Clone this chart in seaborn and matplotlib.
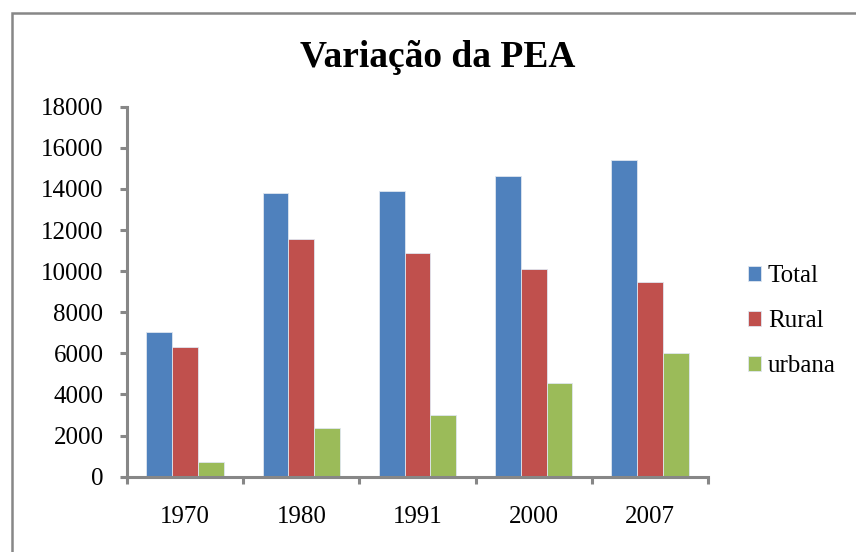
import matplotlib
matplotlib.use("Agg")
import matplotlib.pyplot as plt
import seaborn as sns
import pandas as pd
from matplotlib.patches import Rectangle

years = ["1970", "1980", "1991", "2000", "2007"]
series = ["Total", "Rural", "urbana"]
total = [7050, 13800, 13900, 14650, 15400]
rural = [6300, 11560, 10900, 10120, 9450]
urbana = [720, 2350, 3020, 4550, 6000]
colors = ["#4F81BD", "#C0504D", "#9BBB59"]
yticks = [0, 2000, 4000, 6000, 8000, 10000, 12000, 14000, 16000, 18000]

df = pd.DataFrame({
    "ano": years * 3,
    "serie": [s for s in series for _ in years],
    "valor": total + rural + urbana,
})

sns.set_style("white")
plt.rcParams["font.family"] = ["Liberation Serif", "DejaVu Serif"]
plt.rcParams["text.color"] = "black"
plt.rcParams["xtick.labelcolor"] = "black"
plt.rcParams["ytick.labelcolor"] = "black"

W, H = 856, 552
fig = plt.figure(figsize=(W / 100, H / 100), dpi=100)
ax = fig.add_axes([127 / W, 1 - 476.7 / H, (708 - 127) / W, (476.7 - 106.7) / H])

sns.barplot(data=df, x="ano", y="valor", hue="serie", order=years, hue_order=series,
            palette=colors, width=0.667, ax=ax, saturation=1, edgecolor="#dfe6f0",
            linewidth=0.6, legend=True)

ax.set_ylim(0, 18000)
ax.set_xlim(-0.5, 4.5)
ax.set_yticks(yticks)
ax.set_yticklabels([str(v) for v in yticks])
ax.set_xlabel("")
ax.set_ylabel("")

gray = "#878787"
for side in ["top", "right"]:
    ax.spines[side].set_visible(False)
for side in ["left", "bottom"]:
    ax.spines[side].set_color(gray)
    ax.spines[side].set_linewidth(2.2)

ax.tick_params(axis="y", which="major", direction="out", length=5, width=2.2,
               color=gray, labelsize=18, pad=12, left=True, labelcolor="black")
ax.set_xticks([i - 0.5 for i in range(len(years) + 1)], minor=True)
ax.tick_params(axis="x", which="minor", direction="out", length=5, width=2.2,
               color=gray, bottom=True)
ax.tick_params(axis="x", which="major", length=0, labelsize=18, pad=21,
               labelcolor="black")

handles, labels = ax.get_legend_handles_labels()
ax.legend(handles, labels, loc="center left",
          bbox_to_anchor=(748 / W, 1 - 321 / H), bbox_transform=fig.transFigure,
          frameon=False, fontsize=18, handlelength=0.5, handleheight=0.55,
          handletextpad=0.3, labelspacing=0.92, borderpad=0, borderaxespad=0,
          labelcolor="black")

fig.text(437.5 / W, 1 - 66.7 / H, "Variação da PEA", ha="center", va="baseline",
         fontsize=27, fontweight="bold", color="black")

fig.add_artist(Rectangle((12 / W, -0.1), 1.2, 1 - 13 / H + 0.1,
                         transform=fig.transFigure, fill=False,
                         edgecolor=gray, linewidth=1.8))

fig.savefig("out.png", dpi=100, facecolor="white")
